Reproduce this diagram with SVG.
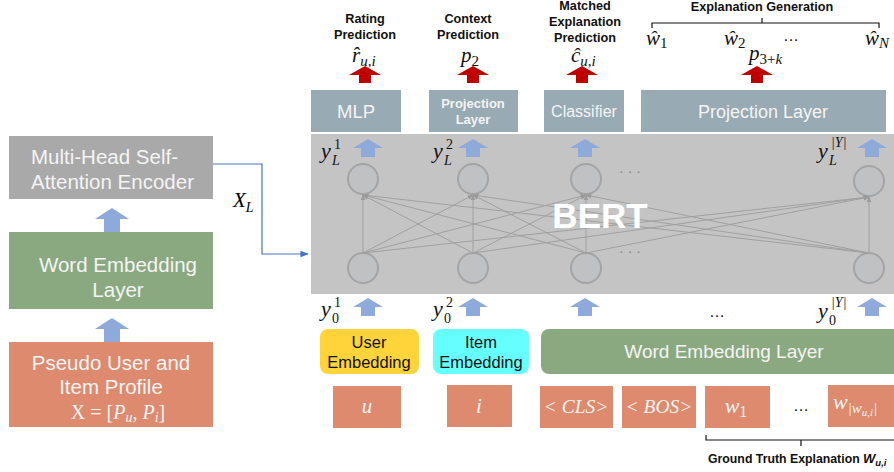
<svg xmlns="http://www.w3.org/2000/svg" width="894" height="472" viewBox="0 0 894 472">
<style>
.sans{font-family:"Liberation Sans",Arial,sans-serif}
.math{font-family:"Liberation Serif","DejaVu Serif",serif;font-style:italic}
.lbl{font-family:"Liberation Sans",Arial,sans-serif;font-weight:bold;font-size:12.7px;fill:#111;text-anchor:middle}
.wt{fill:#f4f4f4}
.circ{fill:#c0c1c3;stroke:#a3a4a6;stroke-width:2}
.net{stroke:#a0a0a0;stroke-width:1;fill:none}
.tok{fill:#dd8a6e}
.topbox{fill:#98aab3}
.yl{font-size:22px}
.ys{font-size:14px}
</style>
<defs>
<path id="barr" d="M0,0 L15,9 L7,9 L7,18 L-7,18 L-7,9 L-15,9 Z" fill="#8eaadb"/>
<path id="bigarr" d="M0,0 L17,11 L8,11 L8,24 L-8,24 L-8,11 L-17,11 Z" fill="#8eaadb"/>
<path id="rarr" d="M0,0 L16,9 L6,9 L6,17 L-6,17 L-6,9 L-16,9 Z" fill="#c00000"/>
<marker id="ah" viewBox="0 0 10 10" refX="9" refY="5" markerWidth="7" markerHeight="7" orient="auto"><path d="M0,1 L10,5 L0,9 Z" fill="#4472c4"/></marker>
<marker id="gh" viewBox="0 0 10 10" refX="9" refY="5" markerWidth="6" markerHeight="6" orient="auto"><path d="M0,1 L10,5 L0,9 Z" fill="#9a9a9a"/></marker>
</defs>

<!-- Left column -->
<g id="mhsa">
<rect x="9" y="136" width="204" height="63" fill="#a9a9a9"/>
<text class="sans wt" font-size="20.5" x="31" y="164">Multi-Head Self-</text>
<text class="sans wt" font-size="20.5" x="31" y="189">Attention Encoder</text>
</g>
<use href="#bigarr" x="112" y="208"/>
<g id="wel-left">
<rect x="9" y="232" width="204" height="77" fill="#8ba980"/>
<text class="sans wt" font-size="20.5" x="118" y="272" text-anchor="middle">Word Embedding</text>
<text class="sans wt" font-size="20.5" x="118" y="297" text-anchor="middle">Layer</text>
</g>
<use href="#bigarr" x="112" y="318"/>
<g id="profile">
<rect x="9" y="342" width="204" height="85" fill="#dd8a6e"/>
<text class="sans wt" font-size="20.5" x="111" y="370" text-anchor="middle">Pseudo User and</text>
<text class="sans wt" font-size="20.5" x="111" y="394" text-anchor="middle">Item Profile</text>
<text font-family="Liberation Serif,serif" font-size="20" class="wt" x="118" y="419" text-anchor="middle">X = [<tspan font-style="italic">P</tspan><tspan font-style="italic" font-size="14" dy="3">u</tspan><tspan dy="-3">, </tspan><tspan font-style="italic">P</tspan><tspan font-style="italic" font-size="14" dy="3">i</tspan><tspan dy="-3">]</tspan></text>
</g>

<!-- BERT block -->
<g id="bert">
<rect x="311" y="134" width="583" height="160" fill="#c4c4c4"/>
<circle class="circ" cx="363" cy="179" r="15"/>
<circle class="circ" cx="473" cy="179" r="15"/>
<circle class="circ" cx="586" cy="179" r="15"/>
<circle class="circ" cx="869" cy="181" r="15"/>
<circle class="circ" cx="363" cy="268" r="15"/>
<circle class="circ" cx="473" cy="268" r="15"/>
<circle class="circ" cx="586" cy="268" r="15"/>
<circle class="circ" cx="869" cy="268" r="15"/>
<text class="sans" font-size="14" fill="#8a8a8a" x="630" y="176" text-anchor="middle">· · ·</text>
<text class="sans" font-size="14" fill="#8a8a8a" x="630" y="256" text-anchor="middle">· · ·</text>
</g>

<g id="connectors">
<g class="net" marker-end="url(#gh)">
<line x1="363" y1="253" x2="363" y2="195"/>
<line x1="363" y1="253" x2="473" y2="195"/>
<line x1="363" y1="253" x2="586" y2="195"/>
<line x1="363" y1="253" x2="869" y2="197"/>
<line x1="473" y1="253" x2="363" y2="195"/>
<line x1="473" y1="253" x2="473" y2="195"/>
<line x1="473" y1="253" x2="586" y2="195"/>
<line x1="473" y1="253" x2="869" y2="197"/>
<line x1="586" y1="253" x2="363" y2="195"/>
<line x1="586" y1="253" x2="473" y2="195"/>
<line x1="586" y1="253" x2="586" y2="195"/>
<line x1="586" y1="253" x2="869" y2="197"/>
<line x1="869" y1="253" x2="363" y2="195"/>
<line x1="869" y1="253" x2="473" y2="195"/>
<line x1="869" y1="253" x2="586" y2="195"/>
<line x1="869" y1="253" x2="869" y2="197"/>
</g>
<polyline points="213,164 262,164 262,254 308,254" fill="none" stroke="#4472c4" stroke-width="1.2" marker-end="url(#ah)"/>
<use href="#barr" x="368" y="139"/>
<use href="#barr" x="473" y="139"/>
<use href="#barr" x="585" y="139"/>
<use href="#barr" x="872" y="139"/>
<use href="#barr" x="368" y="298"/>
<use href="#barr" x="473" y="298"/>
<use href="#barr" x="585" y="298"/>
<use href="#barr" x="872" y="298"/>
<use href="#rarr" x="365" y="66"/>
<use href="#rarr" x="473" y="66"/>
<use href="#rarr" x="582" y="66"/>
<use href="#rarr" x="757" y="66"/>
</g>

<g id="bert-label">
<text class="sans" font-weight="bold" font-size="35" fill="#ffffff" x="600" y="228" text-anchor="middle">BERT</text>
</g>

<text class="math" font-size="21" x="233" y="207">X<tspan font-size="14" dy="5">L</tspan></text>

<!-- y labels -->
<g class="math" fill="#111">
<text class="yl" x="321" y="158">y</text><text class="ys" x="334" y="149" font-style="normal">1</text><text class="ys" x="332" y="165">L</text>
<text class="yl" x="433" y="158">y</text><text class="ys" x="446" y="149" font-style="normal">2</text><text class="ys" x="444" y="165">L</text>
<text class="yl" x="818" y="158">y</text><text class="ys" x="831" y="147">|Y|</text><text class="ys" x="829" y="165">L</text>
<text class="yl" x="321" y="316">y</text><text class="ys" x="334" y="307" font-style="normal">1</text><text class="ys" x="332" y="323" font-style="normal">0</text>
<text class="yl" x="433" y="316">y</text><text class="ys" x="446" y="307" font-style="normal">2</text><text class="ys" x="444" y="323" font-style="normal">0</text>
<text class="yl" x="818" y="318">y</text><text class="ys" x="831" y="307">|Y|</text><text class="ys" x="829" y="325" font-style="normal">0</text>
</g>
<text class="sans" font-size="16" fill="#111" x="717" y="317" text-anchor="middle">…</text>

<!-- top output boxes -->
<g id="mlp">
<rect class="topbox" x="311" y="90" width="90" height="42"/>
<text class="sans wt" font-size="18.5" x="356" y="118" text-anchor="middle">MLP</text>
</g>
<g id="proj1">
<rect class="topbox" x="429" y="90" width="89" height="42"/>
<text class="sans wt" font-size="13" font-weight="bold" x="473" y="108" text-anchor="middle">Projection</text>
<text class="sans wt" font-size="13" font-weight="bold" x="473" y="124" text-anchor="middle">Layer</text>
</g>
<g id="classifier">
<rect class="topbox" x="544" y="90" width="80" height="42"/>
<text class="sans wt" font-size="16" x="584" y="117" text-anchor="middle">Classifier</text>
</g>
<g id="proj2">
<rect class="topbox" x="641" y="90" width="245" height="42"/>
<text class="sans wt" font-size="18" x="763" y="118" text-anchor="middle">Projection Layer</text>
</g>

<!-- top labels -->
<text class="lbl" x="365" y="23">Rating</text>
<text class="lbl" x="365" y="39">Prediction</text>
<text class="lbl" x="468" y="23">Context</text>
<text class="lbl" x="468" y="39">Prediction</text>
<text class="lbl" x="585" y="10">Matched</text>
<text class="lbl" x="585" y="26">Explanation</text>
<text class="lbl" x="585" y="42">Prediction</text>
<text class="lbl" x="762" y="11">Explanation Generation</text>
<path d="M652,28 L652,23 L879,23 L879,28 M762,23 L762,18" fill="none" stroke="#111" stroke-width="1.2"/>

<g class="math" fill="#111">
<text font-size="21" x="352" y="62">r̂<tspan font-size="15" dy="4">u,i</tspan></text>
<text font-size="21" x="461" y="62">p<tspan font-size="15" dy="4" font-style="normal">2</tspan></text>
<text font-size="21" x="571" y="62">ĉ<tspan font-size="15" dy="4">u,i</tspan></text>
<text font-size="21" x="646" y="45">ŵ<tspan font-size="15" dy="3" font-style="normal">1</tspan></text>
<text font-size="21" x="724" y="45">ŵ<tspan font-size="15" dy="3" font-style="normal">2</tspan></text>
<text font-size="21" x="865" y="45">ŵ<tspan font-size="15" dy="3">N</tspan></text>
<text font-size="21" x="749" y="60">p<tspan font-size="15" dy="4" font-style="normal">3+</tspan><tspan font-size="15">k</tspan></text>
</g>
<text class="sans" font-size="16" fill="#111" x="791" y="41" text-anchor="middle">…</text>

<!-- embeddings -->
<g id="user-emb">
<rect x="320" y="329" width="99" height="45" rx="8" fill="#ffd43b"/>
<text class="sans" font-size="16.5" fill="#111" x="369" y="348" text-anchor="middle">User</text>
<text class="sans" font-size="16.5" fill="#111" x="369" y="368" text-anchor="middle">Embedding</text>
</g>
<g id="item-emb">
<rect x="433" y="329" width="96" height="45" rx="8" fill="#66ffff"/>
<text class="sans" font-size="16.5" fill="#111" x="481" y="348" text-anchor="middle">Item</text>
<text class="sans" font-size="16.5" fill="#111" x="481" y="368" text-anchor="middle">Embedding</text>
</g>
<g id="word-emb">
<rect x="541" y="329" width="360" height="45" rx="8" fill="#8ba980"/>
<text class="sans wt" font-size="19" x="724" y="358" text-anchor="middle">Word Embedding Layer</text>
</g>

<!-- tokens -->
<g id="tok-u"><rect class="tok" x="333" y="386" width="68" height="42"/><text class="math wt" font-size="21" x="367" y="413" text-anchor="middle">u</text></g>
<g id="tok-i"><rect class="tok" x="447" y="385" width="65" height="42"/><text class="math wt" font-size="21" x="479" y="413" text-anchor="middle">i</text></g>
<g id="tok-cls"><rect class="tok" x="540" y="386" width="73" height="42"/><text class="math wt" font-size="19.5" x="576" y="413" text-anchor="middle">&lt; CLS&gt;</text></g>
<g id="tok-bos"><rect class="tok" x="622" y="386" width="74" height="42"/><text class="math wt" font-size="19.5" x="659" y="413" text-anchor="middle">&lt; BOS&gt;</text></g>
<g id="tok-w1"><rect class="tok" x="705" y="386" width="65" height="42"/><text class="math wt" font-size="22" x="736" y="413" text-anchor="middle">w<tspan font-size="16" dy="4" font-style="normal">1</tspan></text></g>
<text class="sans" font-size="16" fill="#111" x="801" y="411" text-anchor="middle">…</text>
<g id="tok-wn"><rect class="tok" x="828" y="385" width="70" height="42"/><text class="math wt" font-size="22" x="833" y="409">w<tspan font-size="15" dy="4">|w</tspan><tspan font-size="11" dy="3">u,i</tspan><tspan font-size="15" dy="-3">|</tspan></text></g>

<path d="M706,435 L706,440 L900,440 M801,440 L801,446" fill="none" stroke="#111" stroke-width="1.2"/>
<text class="sans" font-weight="bold" font-size="12.3" fill="#111" x="708" y="463">Ground Truth Explanation <tspan font-style="italic" font-size="13">W</tspan><tspan font-style="italic" font-size="9.5" dy="3">u,i</tspan></text>
</svg>
